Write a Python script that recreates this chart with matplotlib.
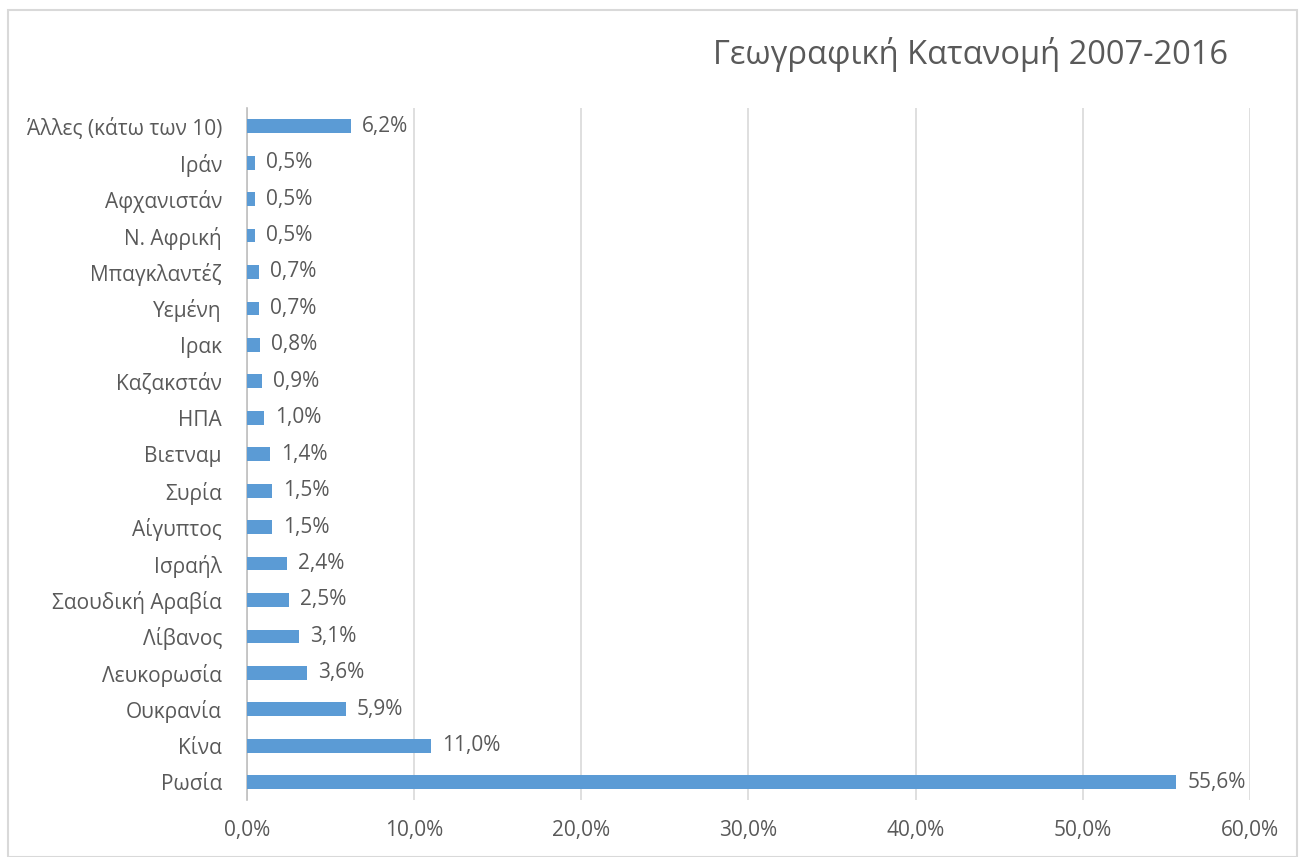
import matplotlib.pyplot as plt
from matplotlib.ticker import FuncFormatter
from matplotlib.patches import Rectangle

plt.rcParams['font.family'] = ['Open Sans', 'DejaVu Sans']

countries = ['Ρωσία', 'Κίνα', 'Ουκρανία', 'Λευκορωσία', 'Λίβανος', 'Σαουδική Αραβία',
             'Ισραήλ', 'Αίγυπτος', 'Συρία', 'Βιετναμ', 'ΗΠΑ', 'Καζακστάν', 'Ιρακ',
             'Υεμένη', 'Μπαγκλαντέζ', 'Ν. Αφρική', 'Αφχανιστάν', 'Ιράν',
             'Άλλες (κάτω των 10)']
shares = [55.6, 11.0, 5.9, 3.6, 3.1, 2.5, 2.4, 1.5, 1.5, 1.4, 1.0, 0.9, 0.8,
          0.7, 0.7, 0.5, 0.5, 0.5, 6.2]

text_col = '#595959'
bar_col = '#5b9bd5'

fig = plt.figure(figsize=(13, 8.57), dpi=100)
ax = fig.add_axes([0.19, 0.066, 0.7715, 0.808])

y = range(len(countries))
ax.barh(y, shares, height=0.38, color=bar_col, zorder=3)
for i, v in enumerate(shares):
    ax.annotate(f'{v:.1f}%'.replace('.', ','), (v, i), xytext=(8, 0),
                textcoords='offset points', va='center', ha='left',
                fontsize=15, color=text_col)

ax.set_xlim(0, 60)
ax.set_ylim(-0.5, len(countries) - 0.5)
ax.set_xticks(range(0, 61, 10))
ax.xaxis.set_major_formatter(FuncFormatter(lambda x, p: f'{x:.1f}%'.replace('.', ',')))
ax.set_yticks(list(y))
ax.set_yticklabels(countries)
ax.tick_params(axis='both', length=0, labelsize=15, colors=text_col)
ax.tick_params(axis='y', pad=18)
ax.tick_params(axis='x', pad=14)
ax.grid(axis='x', color='#d9d9d9', linewidth=1.2, zorder=0)
for s in ['top', 'right', 'bottom']:
    ax.spines[s].set_visible(False)
ax.spines['left'].set_color('#bfbfbf')
ax.spines['left'].set_linewidth(1.2)

fig.text(0.945, 0.936, 'Γεωγραφική Κατανομή 2007-2016', ha='right', va='center',
         fontsize=23.5, color=text_col)

fig.patches.append(Rectangle((0.006, 0.0), 0.992, 0.988, transform=fig.transFigure,
                             fill=False, edgecolor='#d9d9d9', linewidth=1.5))

fig.savefig('out.png')
